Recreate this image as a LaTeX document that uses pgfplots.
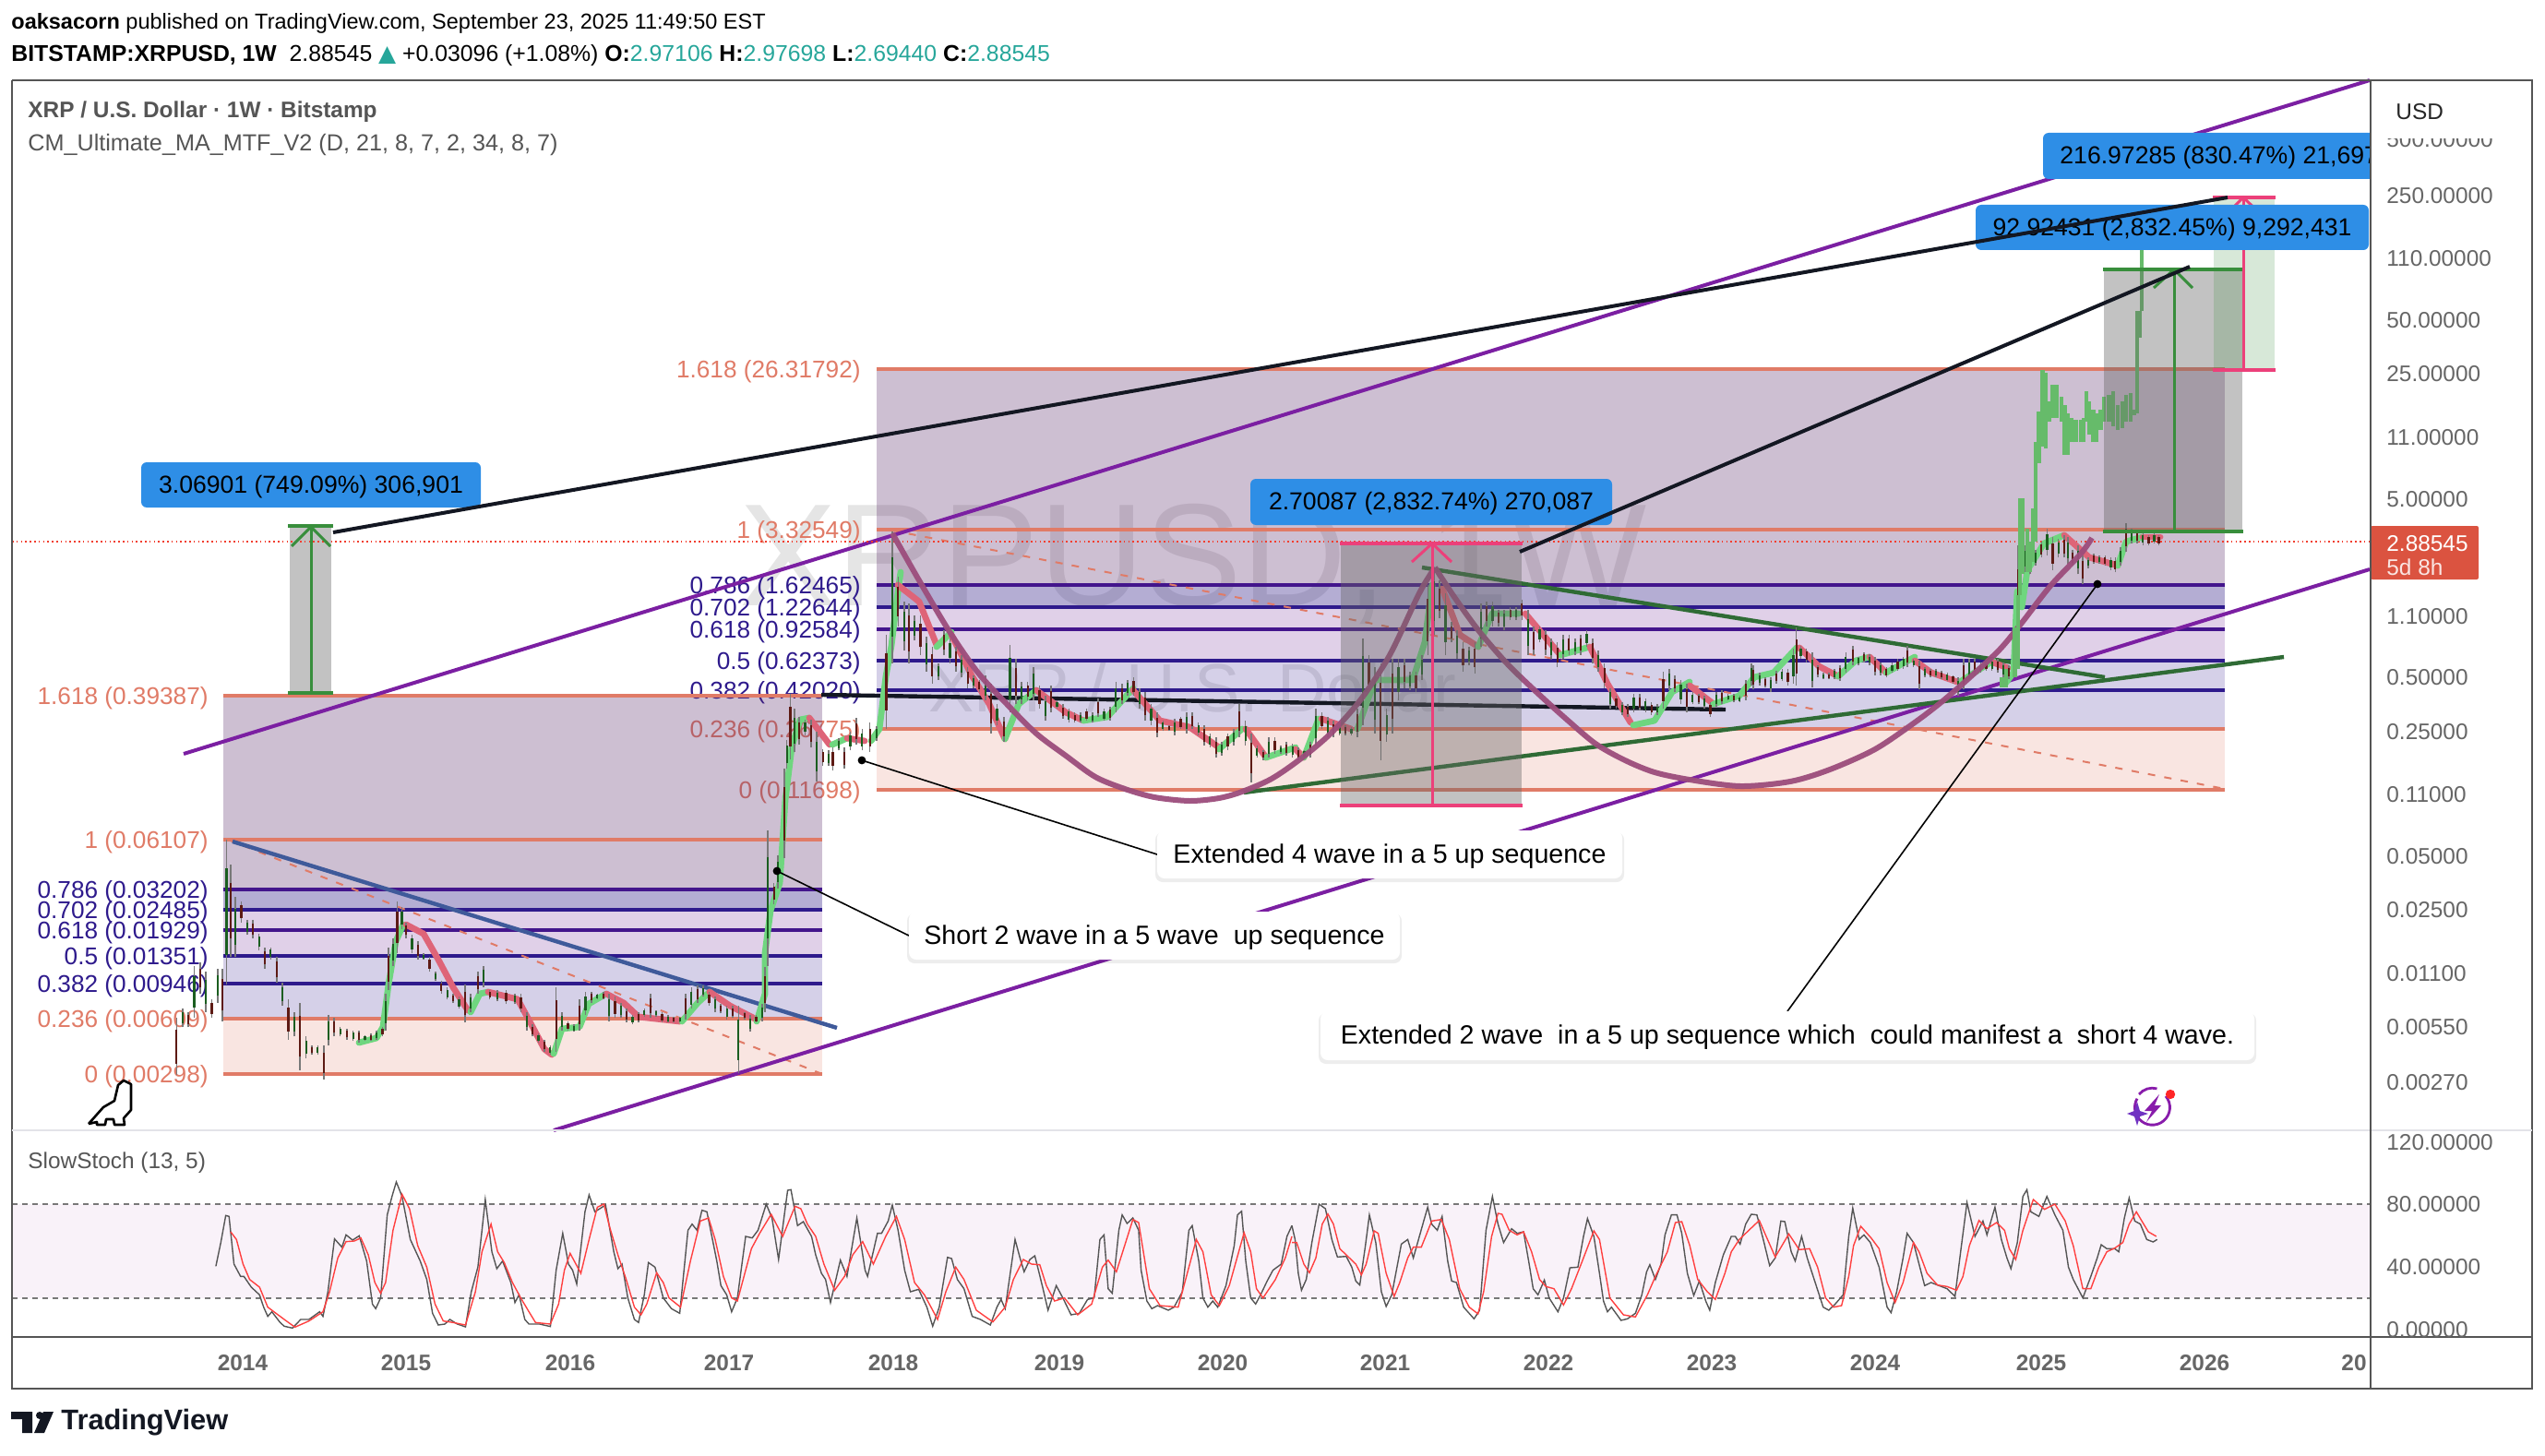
\documentclass[border=0pt]{standalone}
\usepackage{fontspec}
\setmainfont{Liberation Sans}
\newfontfamily\djv{DejaVu Sans}
\usepackage{pgfplots}
\usepackage{pgfplotstable}
\pgfplotsset{compat=1.18}
\definecolor{fibred}{HTML}{E07B67}
\definecolor{fibnavy}{HTML}{2E1A8C}
\definecolor{fibvio}{HTML}{43158C}
\definecolor{fA}{RGB}{90,42,105}
\definecolor{fB}{RGB}{40,20,130}
\definecolor{fC}{RGB}{100,20,140}
\definecolor{fD}{RGB}{45,20,140}
\definecolor{chan}{HTML}{7B1FA2}
\definecolor{tri}{HTML}{2F6B35}
\definecolor{arrowg}{HTML}{388E3C}
\definecolor{pinkm}{HTML}{EC407A}
\definecolor{bluec}{HTML}{2E8EE6}
\definecolor{cup}{HTML}{9C4D7C}
\definecolor{mag}{HTML}{6FD67F}
\definecolor{mar}{HTML}{DE6478}
\definecolor{wick}{HTML}{787878}
\definecolor{bodyr}{HTML}{5D1A14}
\definecolor{bodyg}{HTML}{1B5E20}
\definecolor{pbar}{HTML}{66BB6A}
\definecolor{txt}{HTML}{666666}
\definecolor{frame}{HTML}{555555}
\definecolor{teal}{HTML}{26A69A}
\definecolor{tag}{HTML}{DB5340}
\definecolor{dot}{HTML}{F23E2E}
\definecolor{tvk}{HTML}{131722}
\definecolor{bline}{HTML}{3F5A9A}
\newcommand\tx[5]{\node[anchor=#1,text=#2,inner sep=0pt,yshift=-.8pt,font=\fontsize{#3}{#3}\selectfont] at (axis cs:#4) {#5};}
\newcommand\rectp[5]{\addplot[#1] coordinates {(#2,#3)(#4,#3)(#4,#5)(#2,#5)} --cycle;}
\newcommand\hl[5]{\addplot[draw=#4,line width=#5] coordinates {(#1,#3)(#2,#3)};}
\newcommand\seg[6]{\addplot[draw=#5,line width=#6] coordinates {(#1,#2)(#3,#4)};}
\newcommand\magn[1]{\addplot[draw=mag,line width=3.4pt,line cap=round,line join=round] coordinates {#1};}
\newcommand\mared[1]{\addplot[draw=mar,line width=3.4pt,line cap=round,line join=round] coordinates {#1};}
\newcommand\candles[5]{%
\addplot[draw=none,mark=none,error bars/.cd,y dir=minus,y explicit,error mark=none,error bar style={draw=wick,line width=.8pt}] table[x expr=\thisrow{x}/#2+#3,y expr=\thisrow{b}/#4+#5,y error minus expr=(\thisrow{b}-\thisrow{t})/#4] {#1};
\addplot[draw=none,mark=none,error bars/.cd,y dir=minus,y explicit,error mark=none,error bar style={draw=bodyg,line width=1.1pt}] table[x expr=\thisrow{x}/#2+#3,y expr=(\thisrow{b}-0.2*(\thisrow{b}-\thisrow{t}))/#4+#5,y error minus expr=0.6*(\thisrow{b}-\thisrow{t})/#4] {#1};
\addplot[draw=none,mark=none,each nth point=2,error bars/.cd,y dir=minus,y explicit,error mark=none,error bar style={draw=bodyr,line width=1.1pt}] table[x expr=\thisrow{x}/#2+#3,y expr=(\thisrow{b}-0.2*(\thisrow{b}-\thisrow{t}))/#4+#5,y error minus expr=0.6*(\thisrow{b}-\thisrow{t})/#4] {#1};
}
\pgfplotstableread[row sep=\\]{x t b\\
300 1210 1395\\310 1180 1240\\320 1190 1240\\330 1040 1210\\340 1030 1130\\350 1060 1190\\360 1150 1210\\370 1050 1160\\378 1050 1220\\385 630 1100\\392 710 1010\\400 815 1010\\410 830 900\\420 890 940\\430 890 950\\440 935 990\\450 980 1050\\460 980 1020\\470 1010 1095\\480 1095 1170\\490 1150 1280\\500 1190 1270\\510 1160 1380\\520 1270 1340\\530 1300 1330\\540 1300 1330\\550 1300 1410\\558 1200 1300\\568 1210 1270\\578 1240 1270\\590 1245 1280\\600 1250 1285\\610 1250 1290\\620 1265 1285\\630 1260 1285\\640 1250 1280\\650 1240 1270\\655 1130 1250\\660 980 1120\\668 950 1040\\675 830 1000\\683 850 920\\690 900 950\\700 940 1000\\710 960 1020\\720 1000 1020\\730 1010 1060\\740 1060 1090\\750 1090 1130\\760 1110 1150\\770 1130 1160\\780 1140 1180\\790 1100 1225\\800 1130 1190\\812 1060 1130\\822 1040 1110\\832 1120 1150\\845 1120 1155\\860 1120 1165\\875 1130 1165\\885 1130 1190\\895 1190 1250\\905 1230 1270\\915 1260 1290\\925 1280 1320\\935 1300 1330\\945 1110 1320\\955 1190 1250\\965 1220 1250\\975 1230 1255\\985 1150 1250\\995 1125 1200\\1005 1125 1160\\1015 1130 1150\\1025 1125 1150\\1035 1130 1220\\1045 1140 1210\\1055 1160 1210\\1065 1180 1225\\1075 1200 1230\\1085 1190 1225\\1095 1180 1205\\1105 1130 1210\\1115 1185 1205\\1125 1190 1225\\1135 1200 1225\\1145 1205 1225\\1155 1205 1225\\1165 1130 1215\\1175 1110 1180\\1185 1105 1160\\1195 1105 1140\\1205 1125 1170\\1215 1140 1190\\1225 1165 1195\\1235 1170 1215\\1245 1170 1210\\1255 1170 1390\\1265 1190 1215\\1275 1200 1255\\1285 1200 1225\\1295 1165 1220\\1300 1045 1190\\1305 600 1040\\1315 770 840\\1322 680 790\\1333 400 690\\1337 305 400\\1343 155 370\\1350 205 345\\1358 230 320\\1368 240 290\\1378 240 330\\1388 280 440\\1398 335 390\\1408 340 390\\1415 330 405\\1425 300 340\\1435 330 400\\1445 280 340\\1455 235 320\\1465 270 340\\1478 250 345\\1490 260 310\\
}\wicksA
\pgfplotstableread[row sep=\\]{x t b\\
95 420 650\\105 170 490\\115 280 400\\125 340 460\\133 345 490\\143 375 435\\153 375 470\\163 425 510\\173 450 540\\183 490 530\\193 410 470\\203 430 490\\213 450 510\\223 470 525\\233 500 550\\243 520 550\\253 530 560\\263 520 580\\273 540 660\\283 590 640\\295 620 680\\305 445 610\\315 480 590\\325 535 590\\335 535 580\\345 500 580\\355 545 600\\365 570 630\\375 545 610\\385 580 600\\395 590 625\\405 600 635\\415 610 635\\425 610 635\\435 600 630\\445 610 635\\455 575 620\\465 600 630\\475 595 630\\485 535 610\\495 540 590\\505 530 570\\515 525 570\\525 550 600\\535 560 630\\545 590 640\\555 610 670\\565 630 655\\575 640 655\\585 625 665\\595 620 650\\605 610 660\\615 610 650\\625 635 665\\635 640 690\\645 660 695\\655 670 720\\665 680 715\\675 660 700\\685 650 690\\695 590 670\\705 630 690\\715 660 780\\725 690 720\\735 700 725\\745 670 720\\755 670 710\\765 690 710\\775 680 715\\785 685 720\\795 695 725\\805 700 720\\815 680 720\\825 600 690\\835 610 650\\845 620 670\\855 630 670\\865 640 665\\875 640 665\\885 645 665\\895 600 670\\905 430 640\\915 470 560\\925 500 660\\935 490 725\\945 600 680\\955 480 660\\965 480 580\\975 480 550\\985 510 555\\995 510 560\\1005 470 530\\1015 300 470\\1025 260 420\\1035 290 380\\1045 320 470\\1055 390 440\\1065 410 480\\1075 440 510\\1085 450 495\\1095 440 515\\1105 345 450\\1115 340 400\\1125 340 400\\1135 360 400\\1145 360 410\\1155 355 385\\1165 355 385\\1175 335 385\\1185 360 470\\1195 400 470\\1205 400 440\\1215 410 470\\1225 430 480\\1235 440 500\\1245 420 480\\1255 420 470\\1265 430 470\\1275 420 470\\1285 410 450\\1295 430 490\\1305 460 510\\1315 490 550\\1325 550 600\\1335 570 600\\1345 585 615\\1355 590 620\\1365 565 610\\1375 565 605\\1385 575 610\\1395 585 615\\1405 590 615\\1415 510 600\\1425 505 555\\1435 520 560\\1445 530 590\\1455 540 610\\1465 560 590\\1475 565 590\\1485 570 600\\1495 585 620\\1505 560 595\\1515 555 590\\1525 565 580\\1535 565 585\\1545 570 585\\1555 530 580\\1565 490 545\\
}\wicksB
\pgfplotstableread[row sep=\\]{x t b\\
164 1390 1450\\175 1410 1440\\185 1420 1445\\195 1420 1455\\205 1405 1435\\215 1400 1430\\225 1400 1440\\235 1350 1435\\240 1300 1440\\248 1345 1375\\258 1350 1385\\268 1360 1445\\278 1390 1420\\288 1410 1425\\298 1410 1425\\308 1400 1425\\318 1390 1430\\328 1360 1410\\340 1345 1390\\350 1370 1390\\360 1360 1385\\370 1365 1390\\380 1370 1415\\390 1385 1415\\400 1395 1420\\410 1385 1410\\420 1375 1405\\430 1370 1400\\437 1345 1395\\448 1375 1395\\458 1380 1450\\468 1395 1420\\478 1400 1420\\488 1400 1420\\498 1405 1425\\508 1410 1430\\518 1415 1435\\527 1420 1465\\537 1375 1450\\547 1375 1425\\557 1375 1415\\567 1385 1410\\577 1385 1405\\587 1375 1405\\597 1375 1410\\607 1385 1420\\617 1390 1425\\627 1375 1420\\633 1100 1390\\645 1100 1165\\655 1110 1170\\665 1110 1150\\675 1090 1130\\685 1060 1125\\695 1080 1160\\705 1085 1130\\715 1075 1130\\722 1080 1145\\730 1110 1150\\740 1100 1170\\748 1125 1195\\758 1130 1155\\768 1120 1145\\778 1125 1145\\788 1125 1150\\798 1130 1160\\806 1130 1165\\815 1105 1150\\825 1045 1115\\835 1060 1095\\845 1065 1095\\855 1070 1100\\865 1075 1100\\875 1070 1095\\883 1075 1100\\
}\wicksC
\pgfplotstableread[row sep=\\]{x t b\\
605 1420 1445\\612 1400 1445\\628 1300 1420\\633 1220 1400\\637 985 1220\\642 985 1170\\650 1060 1165\\655 1090 1165\\660 1010 1140\\665 850 1090\\670 775 900\\677 675 860\\683 680 865\\688 750 800\\695 710 790\\702 710 790\\710 740 800\\716 760 880\\722 780 880\\728 790 850\\736 795 850\\745 795 850\\750 790 850\\755 725 800\\760 750 830\\767 770 850\\773 780 850\\780 770 820\\786 740 800\\795 735 800\\802 725 810\\810 760 820\\818 750 815\\825 735 800\\833 730 800\\840 770 785\\845 530 780\\850 530 595\\853 355 530\\
}\projbars
\pgfplotsset{z6/.style={x filter/.expression={x/1.12},y filter/.expression={y/3+1200}},
z7/.style={x filter/.expression={x/1.155+1400},y filter/.expression={y/3+1200}}}
\begin{document}
\begin{tikzpicture}
\begin{axis}[
  at={(0,0)},anchor=south west,
  width=1379pt,height=789pt,scale only axis,
  xmin=0,xmax=2758,ymin=0,ymax=1578,y dir=reverse,
  axis on top,
  axis line style={draw=none},tick style={draw=none},major tick length=0pt,
  xtick pos=bottom,ytick pos=right,
  xtick={263,440,618,790,968,1148,1325,1501,1678,1855,2032,2212,2389,2551},
  xticklabels={2014,2015,2016,2017,2018,2019,2020,2021,2022,2023,2024,2025,2026,20},
  ytick={212,280,347,405,474,541,668,734,793,861,928,986,1055,1113,1173,1238,1305,1373,1441},
  yticklabels={250.00000,110.00000,50.00000,25.00000,11.00000,5.00000,1.10000,0.50000,0.25000,0.11000,0.05000,0.02500,0.01100,0.00550,0.00270,120.00000,80.00000,40.00000,0.00000},
  x tick label style={anchor=center,inner sep=0pt,yshift=50.5pt,text=txt,font=\fontsize{12.2}{14}\selectfont\bfseries},
  y tick label style={anchor=west,inner sep=0pt,xshift=-86pt,text=txt,font=\fontsize{12.2}{14}\selectfont},
  clip=true,
]
% watermark
\tx{center}{black!10}{79}{1293,610}{XRPUSD, 1W}
\tx{center}{black!10}{37}{1292,743}{XRP / U.S. Dollar}
% right block labels
\tx{east}{fibred}{13.1}{933,401}{1.618 (26.31792)}
\tx{east}{fibred}{13.1}{933,575}{1 (3.32549)}
\tx{east}{fibnavy}{13.1}{933,635}{0.786 (1.62465)}
\tx{east}{fibnavy}{13.1}{933,659}{0.702 (1.22644)}
\tx{east}{fibnavy}{13.1}{933,683}{0.618 (0.92584)}
\tx{east}{fibnavy}{13.1}{933,717}{0.5 (0.62373)}
\tx{east}{fibnavy}{13.1}{933,749}{0.382 (0.42020)}
\tx{east}{fibred}{13.1}{933,791}{0.236 (0.26775)}
\tx{east}{fibred}{13.1}{933,857}{0 (0.11698)}
% left block labels
\tx{east}{fibred}{13.1}{226,755}{1.618 (0.39387)}
\tx{east}{fibred}{13.1}{226,911}{1 (0.06107)}
\tx{east}{fibnavy}{13.1}{226,965}{0.786 (0.03202)}
\tx{east}{fibnavy}{13.1}{226,987}{0.702 (0.02485)}
\tx{east}{fibnavy}{13.1}{226,1009}{0.618 (0.01929)}
\tx{east}{fibnavy}{13.1}{226,1037}{0.5 (0.01351)}
\tx{east}{fibnavy}{13.1}{226,1067}{0.382 (0.00946)}
\tx{east}{fibred}{13.1}{226,1105}{0.236 (0.00609)}
\tx{east}{fibred}{13.1}{226,1165}{0 (0.00298)}
% measure rectangle R1
\rectp{fill=gray!80!black,fill opacity=.4,draw=none}{314}{570}{359}{754}
% fib fills
\rectp{fill=fA,fill opacity=.3,draw=none}{242}{754}{891}{964}
\rectp{fill=fB,fill opacity=.35,draw=none}{242}{964}{891}{986}
\rectp{fill=fC,fill opacity=.2,draw=none}{242}{986}{891}{1036}
\rectp{fill=fD,fill opacity=.2,draw=none}{242}{1036}{891}{1104}
\rectp{fill=fibred,fill opacity=.2,draw=none}{242}{1104}{891}{1164}
\rectp{fill=fA,fill opacity=.3,draw=none}{950}{400}{2411}{634}
\rectp{fill=fB,fill opacity=.35,draw=none}{950}{634}{2411}{658}
\rectp{fill=fC,fill opacity=.2,draw=none}{950}{658}{2411}{716}
\rectp{fill=fD,fill opacity=.2,draw=none}{950}{716}{2411}{790}
\rectp{fill=fibred,fill opacity=.2,draw=none}{950}{790}{2411}{856}
% fib lines
\hl{242}{891}{754}{fibred}{2.2pt}\hl{242}{891}{910}{fibred}{2.2pt}\hl{242}{891}{1104}{fibred}{2.2pt}\hl{242}{891}{1164}{fibred}{2.2pt}
\hl{242}{891}{964}{fibvio}{2.2pt}\hl{242}{891}{986}{fibnavy}{2.2pt}\hl{242}{891}{1008}{fibvio}{2.2pt}\hl{242}{891}{1036}{fibnavy}{2.2pt}\hl{242}{891}{1066}{fibnavy}{2.2pt}
\hl{950}{2411}{400}{fibred}{2.2pt}\hl{950}{2411}{574}{fibred}{2.2pt}\hl{950}{2411}{790}{fibred}{2.2pt}\hl{950}{2411}{856}{fibred}{2.2pt}
\hl{950}{2411}{634}{fibvio}{2.2pt}\hl{950}{2411}{658}{fibnavy}{2.2pt}\hl{950}{2411}{682}{fibvio}{2.2pt}\hl{950}{2411}{716}{fibnavy}{2.2pt}\hl{950}{2411}{748}{fibnavy}{2.2pt}
% dashed fib trend
\addplot[draw=fibred,line width=1pt,dash pattern=on 4pt off 5pt] coordinates {(247,910)(891,1164)};
\addplot[draw=fibred,line width=1pt,dash pattern=on 4pt off 5pt] coordinates {(967,575)(2411,855)};
% stoch band
\rectp{fill=violet!5,draw=none}{13}{1305}{2569}{1407}
% channel
\addplot[draw=chan,line width=2pt] coordinates {(199,817)(2568,87)};
\addplot[draw=chan,line width=2pt] coordinates {(600,1225)(2568,617)};
% trend lines
\seg{252}{912}{907}{1114}{bline}{2.2pt}
\seg{1541}{615}{2281}{734}{tri}{2.2pt}
\seg{1348}{859}{2475}{712}{tri}{2.2pt}
\seg{890}{753}{1870}{769}{tvk}{2.2pt}
% dotted last price
\addplot[draw=dot,line width=.7pt,dash pattern=on .8pt off 1.6pt] coordinates {(13,587)(2569,587)};
% MA ribbon
\magn{(389,1130)(408,1125)(415,1113)(421,1067)(429,1020)(437,1002)}
\mared{(440,1002)(459,1012)(475,1040)(491,1070)(507,1095)}
\magn{(510,1097)(520,1077)(529,1075)}
\mared{(529,1075)(561,1083)(574,1107)(590,1137)(598,1143)}
\magn{(600,1142)(609,1115)(628,1113)(638,1088)(657,1077)}
\mared{(657,1077)(676,1087)(692,1102)(737,1107)}
\magn{(739,1107)(756,1087)(769,1075)}
\mared{(769,1075)(791,1090)(820,1105)}
\magn{(820,1107)(829,1077)(829,1033)(835,987)(845,957)(851,867)(858,810)(867,780)(877,778)}
\mared{(877,778)(899,807)}
\magn{(902,807)(918,800)}
\mared{(918,800)(937,803)}
\magn{(944,803)(953,790)(960,733)(966,700)(972,650)(976,620)}
\mared{(973,634)(996,652)(1015,699)}
\magn{(1015,701)(1031,685)}
\mared{(1031,688)(1053,732)(1072,763)(1089,801)}
\magn{(1089,801)(1104,763)(1123,748)}
\mared{(1123,748)(1155,772)(1174,781)}
\magn{(1174,781)(1200,777)(1228,746)}
\mared{(1228,748)(1257,781)(1289,788)(1321,810)}
\magn{(1321,812)(1346,790)}
\mared{(1350,790)(1372,821)}
\magn{(1372,821)(1404,810)}
\mared{(1404,812)(1413,821)}
\magn{(1413,821)(1429,779)}
\mared{(1432,779)(1464,790)}
\magn{(1471,790)(1490,737)(1531,737)(1544,696)(1552,634)}
\mared{(1563,638)(1582,688)(1602,701)}
\magn{(1602,701)(1617,665)(1646,665)}
\mared{(1653,665)(1691,710)}
\magn{(1691,710)(1723,701)}
\mared{(1723,701)(1742,741)(1767,783)}
\magn{(1770,786)(1793,781)(1812,750)(1831,739)}
\mared{(1831,743)(1857,763)}
\magn{(1857,763)(1885,754)(1901,734)(1922,729)(1947,702)}
\mared{(1950,702)(1971,722)(1992,733)}
\magn{(1992,733)(2011,716)(2026,712)}
\mared{(2026,712)(2044,729)}
\magn{(2044,729)(2075,712)}
\mared{(2075,716)(2093,729)(2121,739)}
\magn{(2124,739)(2160,716)}
\mared{(2160,718)(2176,724)}
\magn{(2173,741)(2182,729)(2186,641)(2191,658)(2197,618)(2215,589)(2237,580)}
\mared{(2237,580)(2264,604)(2295,613)}
\magn{(2295,613)(2304,587)(2322,582)}
\mared{(2322,582)(2341,582)}
% candles
\candles{\wicksA}{1.568}{0}{3}{700}
\candles{\wicksB}{1.568}{900}{2.24}{500}
\candles{\wicksC}{1.637}{1800}{2.24}{100}
% cups
\addplot[draw=cup,line width=3pt,smooth,opacity=.95] coordinates {(967,578)(996,629)(1028,683)(1059,728)(1091,763)(1123,795)(1155,819)(1187,842)(1219,855)(1251,864)(1289,868)(1321,865)(1346,858)(1378,844)(1410,822)(1442,795)(1474,759)(1506,710)(1538,643)(1555,615)};
\addplot[draw=cup,line width=3pt,smooth,opacity=.95] coordinates {(1555,615)(1576,647)(1602,683)(1633,719)(1665,750)(1697,779)(1729,806)(1761,824)(1793,837)(1831,845)(1886,852)(1940,847)(1983,834)(2032,812)(2075,783)(2105,760)(2136,733)(2167,704)(2191,675)(2222,635)(2255,600)(2267,583)};
% projected bars
\addplot[draw=none,mark=none,error bars/.cd,y dir=minus,y explicit,error mark=none,error bar style={draw=pbar,line width=2.2pt}] table[x expr=\thisrow{x}/1.637+1800,y expr=\thisrow{b}/2.24+100,y error minus expr=(\thisrow{b}-\thisrow{t})/2.24] {\projbars};
% measuring tools
\rectp{fill=gray!80!black,fill opacity=.4,draw=none}{1453}{589}{1649}{873}
\rectp{fill=gray!80!black,fill opacity=.4,draw=none}{2280}{292}{2430}{576}
\rectp{fill=arrowg,fill opacity=.2,draw=none}{2399}{214}{2465}{401}
\hl{312}{361}{570}{arrowg}{2pt}\hl{312}{361}{751}{arrowg}{2pt}
\seg{337}{570}{337}{751}{arrowg}{1.5pt}
\addplot[draw=arrowg,line width=1.5pt] coordinates {(316,592)(337,571)(358,592)};
\hl{1452}{1650}{589}{pinkm}{2pt}\hl{1452}{1650}{873}{pinkm}{2pt}
\seg{1552}{589}{1552}{873}{pinkm}{1.5pt}
\addplot[draw=pinkm,line width=1.5pt] coordinates {(1530,609)(1552,589)(1573,609)};
\hl{2279}{2431}{292}{arrowg}{2pt}\hl{2279}{2431}{576}{arrowg}{2pt}
\seg{2356}{292}{2356}{576}{arrowg}{1.5pt}
\addplot[draw=arrowg,line width=1.5pt] coordinates {(2334,312)(2356,292)(2376,312)};
\hl{2398}{2466}{214}{pinkm}{2pt}\hl{2398}{2466}{401}{pinkm}{2pt}
\seg{2431}{214}{2431}{401}{pinkm}{1.5pt}
\addplot[draw=pinkm,line width=1.5pt] coordinates {(2411,234)(2431,214)(2452,234)};
% blue labels
\fill[bluec,rounded corners=3pt] (axis cs:153,501) rectangle (axis cs:521,550);
\tx{center}{black}{13.3}{337,526}{3.06901 (749.09\%) 306,901}
\fill[bluec,rounded corners=3pt] (axis cs:1355,519) rectangle (axis cs:1747,569);
\tx{center}{black}{13.3}{1551,544}{2.70087 (2,832.74\%) 270,087}
\fill[bluec,rounded corners=3pt] (axis cs:2214,144) rectangle (axis cs:2700,194);
\tx{west}{black}{13.3}{2232,169}{216.97285 (830.47\%) 21,697,285}
\fill[bluec,rounded corners=3pt] (axis cs:2141,222) rectangle (axis cs:2567,271);
\tx{center}{black}{13.3}{2354,247}{92.92431 (2,832.45\%) 9,292,431}
% black connectors
\seg{361}{577}{2414}{214}{tvk}{2pt}
\seg{1647}{598}{2373}{289}{tvk}{2pt}
% callout leaders
\seg{934}{824}{1254}{926}{black}{.8pt}
\seg{842}{944}{985}{1014}{black}{.8pt}
\seg{2273}{633}{1937}{1096}{black}{.8pt}
\fill[black] (axis cs:934,824) circle (2.2pt);
\fill[black] (axis cs:842,944) circle (2.2pt);
\fill[black] (axis cs:2273,633) circle (2.2pt);
% callouts
\fill[black,opacity=.07,rounded corners=4pt] (axis cs:1252,902) rectangle (axis cs:1760,956);
\fill[white,rounded corners=4pt] (axis cs:1254,900) rectangle (axis cs:1758,952);
\tx{center}{black}{14.3}{1506,926}{Extended 4 wave in a 5 up sequence}
\fill[black,opacity=.07,rounded corners=4pt] (axis cs:983,990) rectangle (axis cs:1519,1044);
\fill[white,rounded corners=4pt] (axis cs:985,988) rectangle (axis cs:1517,1040);
\tx{center}{black}{14.3}{1251,1014}{Short 2 wave in a 5 wave \ up sequence}
\fill[black,opacity=.07,rounded corners=4pt] (axis cs:1429,1098) rectangle (axis cs:2445,1153);
\fill[white,rounded corners=4pt] (axis cs:1431,1096) rectangle (axis cs:2443,1149);
\tx{center}{black}{14.3}{1937,1122}{Extended 2 wave \ in a 5 up sequence which \ could manifest a \ short 4 wave.}
% stochastic
\addplot[draw=wick,line width=1pt,dash pattern=on 3pt off 2.5pt] coordinates {(13,1305)(2569,1305)};
\addplot[draw=wick,line width=1pt,dash pattern=on 3pt off 2.5pt] coordinates {(13,1407)(2569,1407)};
\addplot[z6,draw=frame,line width=.7pt] coordinates {(262,517)(268,440)(274,352)(278,355)(284,510)(292,550)(296,550)(305,585)(315,610)(320,650)(325,680)(330,665)(340,700)(345,712)(355,718)(365,690)(375,690)(388,665)(392,680)(398,600)(406,428)(415,455)(420,415)(428,432)(436,418)(445,500)(452,640)(456,655)(462,620)(470,350)(476,288)(481,243)(488,290)(498,430)(510,500)(518,560)(525,670)(532,708)(540,705)(546,690)(555,705)(565,714)(572,600)(580,520)(585,400)(589,300)(597,470)(603,525)(610,500)(620,570)(625,635)(630,610)(637,690)(642,705)(655,705)(668,713)(675,530)(683,410)(690,510)(695,530)(700,575)(710,340)(715,285)(722,340)(735,318)(745,470)(750,525)(755,510)(762,620)(770,690)(775,700)(782,610)(787,505)(795,520)(805,620)(815,655)(825,670)(835,400)(840,380)(846,400)(852,335)(858,340)(870,500)(875,580)(882,610)(888,665)(895,620)(905,420)(913,425)(920,400)(930,315)(937,360)(945,495)(952,350)(956,270)(960,268)(968,385)(975,372)(985,420)(990,480)(997,540)(1002,560)(1008,635)(1020,497)(1028,550)(1040,360)(1050,530)(1053,550)(1065,410)(1070,410)(1078,370)(1083,318)(1090,400)(1098,530)(1105,600)(1115,592)(1125,650)(1132,712)(1140,650)(1150,488)(1155,492)(1162,560)(1170,590)(1180,680)(1190,690)(1202,708)(1210,650)(1215,625)(1220,655)(1232,430)(1238,490)(1243,535)(1250,495)(1256,483)(1265,580)(1272,660)(1282,580)(1290,620)(1300,675)(1310,670)(1320,625)(1328,620)(1335,430)(1340,415)(1345,590)(1350,605)(1358,400)(1362,350)(1368,378)(1375,360)(1382,400)(1385,530)(1392,630)(1398,655)(1405,645)(1418,660)(1425,650)(1435,600)(1443,400)(1447,385)(1455,500)(1460,620)(1466,650)(1472,630)(1478,650)(1488,580)(1498,450)(1502,350)(1507,338)(1512,500)(1518,620)(1524,640)(1530,610)(1538,565)(1545,530)(1555,510)(1562,420)(1568,385)};
\addplot[z7,draw=frame,line width=.7pt] coordinates {(0,385)(4,430)(8,540)(12,595)(18,560)(25,440)(34,315)(42,330)(50,430)(57,487)(68,485)(75,520)(80,565)(85,578)(92,450)(97,350)(105,440)(112,600)(118,648)(125,610)(137,445)(145,430)(152,490)(165,370)(170,325)(175,380)(182,400)(188,355)(195,500)(200,565)(206,570)(215,650)(228,688)(235,660)(243,400)(251,290)(258,380)(265,440)(275,395)(282,410)(290,405)(297,510)(302,590)(308,610)(316,562)(322,620)(333,665)(340,620)(348,522)(358,520)(365,420)(370,362)(378,420)(385,540)(390,630)(395,665)(400,650)(412,693)(420,688)(430,670)(438,610)(444,535)(448,512)(455,560)(462,510)(467,415)(475,350)(482,350)(488,410)(495,540)(503,612)(510,565)(518,630)(523,660)(530,570)(540,480)(550,420)(555,420)(561,445)(568,380)(575,348)(582,350)(590,430)(598,515)(605,490)(612,370)(617,372)(625,470)(630,500)(638,420)(645,490)(655,570)(665,650)(672,660)(680,640)(690,610)(697,420)(702,328)(710,430)(716,415)(724,440)(735,520)(745,650)(750,668)(757,600)(765,490)(770,410)(778,440)(785,510)(792,580)(800,570)(810,580)(820,590)(830,615)(838,450)(845,310)(855,420)(865,370)(870,415)(880,325)(888,430)(895,490)(900,525)(908,440)(915,290)(920,268)(925,340)(935,355)(945,290)(955,350)(965,400)(972,520)(978,560)(990,620)(1000,550)(1008,490)(1013,447)(1020,460)(1030,460)(1035,470)(1042,360)(1048,295)(1055,370)(1062,380)(1070,430)(1078,438)(1083,430)};
\addplot[z6,draw=red!75,line width=.7pt] coordinates {(280,405)(287,430)(295,510)(303,560)(315,585)(325,650)(335,670)(345,690)(358,715)(375,695)(392,665)(400,600)(410,490)(420,437)(430,435)(438,425)(447,480)(455,570)(462,605)(468,570)(477,400)(488,283)(497,330)(507,450)(518,520)(528,640)(538,695)(550,700)(565,708)(577,600)(585,470)(596,380)(604,470)(612,505)(622,570)(632,620)(642,665)(650,700)(668,705)(678,640)(685,530)(692,475)(697,500)(705,540)(715,430)(725,325)(733,315)(740,390)(750,480)(760,560)(770,650)(778,675)(785,640)(797,538)(805,570)(812,620)(826,650)(838,500)(850,370)(860,360)(868,430)(878,550)(888,620)(895,630)(902,560)(912,460)(922,410)(936,348)(950,420)(965,322)(972,330)(980,380)(990,420)(1000,510)(1013,595)(1025,550)(1035,480)(1047,437)(1060,510)(1075,420)(1088,355)(1098,430)(1110,570)(1122,610)(1138,690)(1148,600)(1160,520)(1170,560)(1185,660)(1205,698)(1220,650)(1230,560)(1242,495)(1252,510)(1262,512)(1270,580)(1280,630)(1292,620)(1308,675)(1325,640)(1338,520)(1345,497)(1355,535)(1365,450)(1375,365)(1382,375)(1395,590)(1408,645)(1430,650)(1440,550)(1452,430)(1460,470)(1470,610)(1480,645)(1492,580)(1510,408)(1518,470)(1525,590)(1533,620)(1548,560)(1560,490)(1568,420)};
\addplot[z7,draw=red!75,line width=.7pt] coordinates {(0,440)(6,440)(15,510)(22,538)(30,490)(38,380)(45,347)(52,380)(60,460)(70,485)(80,510)(87,545)(93,510)(103,402)(108,410)(118,540)(128,615)(135,570)(145,490)(152,455)(162,455)(175,370)(187,365)(197,430)(210,590)(222,650)(233,672)(240,600)(250,420)(258,345)(263,348)(272,400)(282,415)(290,405)(300,470)(310,560)(318,583)(328,590)(340,643)(350,590)(362,510)(378,402)(385,430)(398,620)(415,675)(430,682)(445,610)(455,550)(470,470)(480,375)(488,372)(498,450)(508,560)(520,600)(530,625)(542,540)(550,470)(560,430)(572,400)(585,368)(592,410)(605,487)(622,412)(635,463)(648,460)(658,520)(668,620)(678,650)(688,645)(697,550)(703,450)(712,387)(725,425)(735,460)(745,570)(755,635)(765,570)(778,440)(785,470)(795,540)(808,578)(820,583)(832,595)(840,550)(848,450)(860,368)(870,395)(882,375)(892,400)(898,460)(906,495)(915,400)(928,300)(942,332)(955,315)(968,370)(978,450)(990,590)(1000,590)(1010,520)(1020,470)(1030,458)(1040,440)(1048,380)(1057,340)(1065,375)(1072,405)(1082,420)};
% price column
\rectp{fill=white,draw=none}{2570}{88}{2743}{1224}
\node[anchor=west,text=txt,inner sep=0pt,font=\fontsize{12.2}{14}\selectfont] at (axis cs:2586,151) {500.00000};
\fill[white,rounded corners=3pt] (axis cs:2576,90) rectangle (axis cs:2736,150);
\tx{west}{black!85}{12.2}{2596,120}{USD}
% price tag
\fill[tag,rounded corners=1pt] (axis cs:2569,570) rectangle (axis cs:2686,628);
\tx{west}{white}{12.2}{2586,587}{2.88545}
\tx{west}{white!85!tag}{12.2}{2586,613}{5d 8h}
% frame
\addplot[draw=frame,line width=1pt] coordinates {(13,87)(2744,87)(2744,1505)(13,1505)(13,87)};
\hl{13}{2744}{1449}{frame}{1.4pt}
\hl{13}{2744}{1225}{blue!8!gray!20}{1pt}
\seg{2569}{87}{2569}{1505}{frame}{.8pt}
% header
\node[anchor=west,inner sep=0pt,yshift=-.8pt,font=\fontsize{11.75}{14}\selectfont] at (axis cs:12,24) {\textbf{oaksacorn} published on TradingView.com, September 23, 2025 11:49:50 EST};
\node[anchor=west,inner sep=0pt,yshift=-.8pt,font=\fontsize{12.4}{14}\selectfont] at (axis cs:12,58) {\textbf{BITSTAMP:XRPUSD, 1W}\ \ 2.88545 {\djv\color{teal}▲} +0.03096 (+1.08\%) \textbf{O:}\textcolor{teal}{2.97106} \textbf{H:}\textcolor{teal}{2.97698} \textbf{L:}\textcolor{teal}{2.69440} \textbf{C:}\textcolor{teal}{2.88545}};
\node[anchor=west,inner sep=0pt,yshift=-.8pt,text=frame,font=\fontsize{12.2}{14}\selectfont\bfseries] at (axis cs:30,120) {XRP / U.S. Dollar · 1W · Bitstamp};
\tx{west}{frame}{12.6}{30,155}{CM\_Ultimate\_MA\_MTF\_V2 (D, 21, 8, 7, 2, 34, 8, 7)}
\tx{west}{frame}{12.2}{30,1259}{SlowStoch (13, 5)}
% dino
\addplot[draw=black,fill=white,line width=1.3pt,line join=round] coordinates {(96,1218)(112,1200)(124,1193)(128,1176)(134,1171)(142,1175)(142,1203)(134,1212)(135,1219)(124,1219)(123,1213)(115,1213)(114,1219)(105,1219)(105,1216)(96,1218)};
% spark logo
\draw[chan!90!magenta,line width=1.4pt] (axis cs:2347,1188) arc[start angle=40,end angle=-210,radius=9.5pt];
\draw[chan!90!magenta,line width=1.4pt] (axis cs:2318,1186) arc[start angle=140,end angle=75,radius=9.5pt];
\addplot[fill=chan!90!magenta,draw=none] coordinates {(2340,1186)(2324,1204)(2332,1204)(2326,1216)(2342,1198)(2335,1198)} --cycle;
\addplot[fill=violet!60!blue!80,draw=none] coordinates {(2316,1194)(2319,1204)(2328,1207)(2319,1210)(2316,1220)(2313,1210)(2305,1207)(2313,1204)} --cycle;
\fill[red!85] (axis cs:2352,1186) circle (2.6pt);
% TradingView logo
\addplot[fill=tvk,draw=none] coordinates {(12,1530)(35,1530)(35,1553)(24,1553)(24,1538)(12,1538)} --cycle;
\fill[tvk] (axis cs:43,1534) circle (2pt);
\addplot[fill=tvk,draw=none] coordinates {(47,1530)(58,1530)(48,1553)(37,1553)} --cycle;
\node[anchor=west,inner sep=0pt,text=tvk,font=\fontsize{15.4}{18}\selectfont\bfseries] at (axis cs:66,1542) {TradingView};
\end{axis}
\end{tikzpicture}
\end{document}
